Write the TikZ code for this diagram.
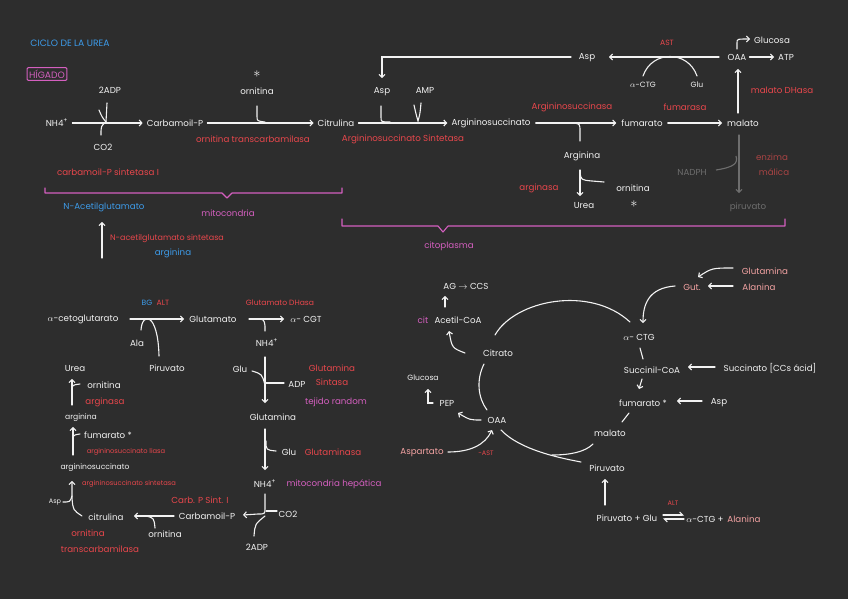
\documentclass[tikz,border=0pt]{standalone}
\usepackage{fontspec}
\setmainfont{Poppins}
\usetikzlibrary{arrows.meta,calc}
\definecolor{bg}{HTML}{2D2D2D}
\definecolor{cred}{HTML}{E8474C}
\definecolor{cblue}{HTML}{3D9BE9}
\definecolor{cpink}{HTML}{D45FBF}
\definecolor{csal}{HTML}{F4A3A3}
\definecolor{cgray}{HTML}{6E6E6E}
\definecolor{cdred}{HTML}{A84444}
\definecolor{cwh}{HTML}{F2F2F2}
\begin{document}
\begin{tikzpicture}[x=1pt,y=-1pt,
  every node/.style={inner sep=1pt, font=\fontsize{8.7}{10}\selectfont, text=cwh},
  rd/.style={text=cred}, bl/.style={text=cblue}, pk/.style={text=cpink},
  sa/.style={text=csal}, gy/.style={text=cgray}, dr/.style={text=cdred},
  small/.style={font=\fontsize{6.5}{7}\selectfont},
  tiny/.style={font=\fontsize{6.7}{8}\selectfont},
  mid/.style={font=\fontsize{7.6}{9}\selectfont},
  hdr/.style={font=\fontsize{9.2}{10}\selectfont},
  starn/.style={inner sep=0pt, font=\fontsize{15}{15}\selectfont},
  ln/.style={draw=cwh, line width=1.1pt, line cap=round},
  arr/.style={ln, -{Straight Barb[length=2.8pt,width=6pt]}},
  garr/.style={arr, draw=cgray},
  brc/.style={draw=cpink, line width=1.1pt, line cap=round, line join=round}]
\fill[bg] (0,0) rectangle (848,599);

% ================= TOP: urea cycle =================
\node (ciclo) [bl, hdr] at (70,43) {CICLO DE LA UREA};
\node (hig) [pk, hdr, draw=cpink, line width=1pt, rounded corners=1pt, inner sep=2pt] at (47,74) {HÍGADO};
\node (nh4) at (57,123) {NH4\textsuperscript{+}};
\node (adp2) at (110,90) {2ADP};
\node (co2) at (103,147) {CO2};
\node (carbP) at (175,123) {Carbamoil-P};
\node (star1) [starn] at (257,74) {$\ast$};
\node (orn1) at (257,91) {ornitina};
\node (otc1) [rd] at (253,139) {ornitina transcarbamilasa};
\node (citr) at (336,123) {Citrulina};
\node (cps1) [rd] at (108,172) {carbamoil-P sintetasa I};

\draw[arr, shorten <=3pt, shorten >=3pt] (nh4) -- (carbP);
\coordinate (j1) at (106,122);
\draw[ln] (107,103) -- (j1);
\draw[ln] (99,110) .. controls (102,117) .. (j1);
\draw[ln] (j1) .. controls (101,126) .. (101,135);
\draw[arr, shorten <=3pt, shorten >=3pt] (carbP) -- (citr);
\draw[ln] (257,106) -- (257,116) .. controls (257,121) .. (265,122);

% brace mitocondria
\draw[brc] (45,188) -- (45,193) -- (222,193) -- (227,198) -- (232,193) -- (342,193) -- (342,188);
\node (nacg) [bl] at (104,207) {N-Acetilglutamato};
\node (mito) [pk] at (228,213) {mitocondria};
\coordinate (nacgIn) at (102,258);
\draw[arr] (nacgIn) -- (102,222);
\node (nags) [rd, font=\fontsize{8}{9}\selectfont] at (167,239) {N-acetilglutamato sintetasa};
\node (argb) [bl] at (173,253) {arginina};

% Argininosuccinato sintetasa
\node (aspA) at (382,92) {Asp};
\node (amp) at (425,90) {AMP};
\node (ass) [rd] at (403,139) {Argininosuccinato Sintetasa};
\node (argsuc) at (491,123) {Argininosuccinato};
\draw[arr, shorten <=3pt, shorten >=3pt] (citr) -- (argsuc);
\draw[ln] (381,106) -- (381,117) .. controls (381,122) .. (390,122);
\draw[ln] (414,105) .. controls (416,114) .. (418,121) .. controls (420,114) .. (421,103);

% Argininosuccinasa
\node (asl) [rd] at (572,107) {Argininosuccinasa};
\node (fum) at (642,123) {fumarato};
\draw[arr, shorten <=4pt, shorten >=4pt] (argsuc) -- (fum);
\node (arg) at (582,156) {Arginina};
\draw[ln] (574,123) .. controls (580,124) .. (580,132) -- (580,141);
\node (urea1) at (584,206) {Urea};
\node (orn2) at (633,188) {ornitina};
\node (star2) [starn] at (634,204) {$\ast$};
\node (argasa) [rd] at (539,188) {arginasa};
\coordinate (argOut) at (580,170);
\draw[arr] (argOut) -- (580,196);
\draw[ln] (580,172) .. controls (581,180) .. (592,181) -- (604,182);

% fumarasa, malato, OAA
\node (fumasa) [rd] at (685,107) {fumarasa};
\node (mal) at (743,123) {malato};
\draw[arr, shorten <=4pt, shorten >=4pt] (fum) -- (mal);
\node (oaa) at (737,57) {OAA};
\node (mdh) [rd] at (782,90) {malato DHasa};
\draw[arr] (738,113) -- (738,69);
\node (atp) at (786,57) {ATP};
\draw[arr, shorten <=2pt, shorten >=3pt] (oaa) -- (atp);
\node (gluc1) at (772,40) {Glucosa};
\draw[arr] (737,49) -- (737,43) .. controls (737,39) .. (750,39);

% AST transamination
\node (astT) [rd, mid] at (667,43) {AST};
\node (aspT) at (587,58) {Asp};
\draw[arr] (719,57) -- (609,57);
\node (actg1) [mid] at (643,85) {$\alpha$-CTG};
\node (glu1) [mid] at (697,85) {Glu};
\draw[ln] (643,76) .. controls (652,50) and (688,50) .. (697,76);
\draw[arr] (571,57) -- (382,57) -- (382,78);

% enzima malica (gray)
\node (nadph) [gy] at (692,172) {NADPH};
\node (em1) [dr] at (772,157) {enzima};
\node (em2) [dr] at (774,172) {málica};
\node (pir1) [gy] at (748,207) {piruvato};
\draw[garr] (739,135) -- (739,193);
\draw[draw=cgray, line width=1.1pt] (716,170) .. controls (735,167) and (738,163) .. (736,156);

% brace citoplasma
\draw[brc] (342,219) -- (342,226) -- (438,226) -- (443,232) -- (448,226) -- (785,226) -- (785,219);
\node (cito) [pk] at (449,246) {citoplasma};

% ================= BOTTOM LEFT =================
\node (akg) at (83,319) {$\alpha$-cetoglutarato};
\node (bg) [bl, mid] at (147,303) {BG};
\node (alt1) [rd, mid] at (163,303) {ALT};
\node (glut) at (213,319) {Glutamato};
\draw[arr] (130,319) -- (184,319);
\node (ala) at (137,343) {Ala};
\node (pir2) at (167,368) {Piruvato};
\draw[ln] (141,330) .. controls (142,312) and (158,312) .. (159,356);
\node (gdh) [rd, mid] at (280,303) {Glutamato DHasa};
\node (acgt) at (306,319) {$\alpha$- CGT};
\draw[arr] (249,319) -- (284,319);
\draw[ln] (255,319) .. controls (264,319) .. (265,326) -- (265,331);
\node (nh4b) at (267,343) {NH4\textsuperscript{+}};
\draw[arr] (265,357) -- (265,403);
\node (glu2) at (240,369) {Glu};
\draw[ln] (252,371) .. controls (262,374) .. (265,385);
\node (adp1) at (297,384) {ADP};
\draw[ln] (265,383) -- (284,383);
\node (gs1) [rd] at (332,368) {Glutamina};
\node (gs2) [rd] at (332,382) {Sintasa};
\node (tej) [pk] at (336,402) {tejido random};
\node (glm) at (273,417) {Glutamina};
\draw[arr] (265,429) -- (265,470);
\draw[ln] (266,441) .. controls (266,450) .. (276,451);
\node (glu3) at (289,452) {Glu};
\node (glsa) [rd] at (333,452) {Glutaminasa};
\node (nh4c) at (265,484) {NH4\textsuperscript{+}};
\node (mh) [pk] at (334,484) {mitocondria hepática};
\draw[arr] (265,494) -- (265,508) .. controls (265,514) .. (258,514) -- (243,515);
\draw[ln] (277,511) -- (266,511);
\node (co2b) at (288,514) {CO2};
\draw[ln] (254,536) .. controls (255,524) .. (265,516);
\node (adp2b) at (257,547) {2ADP};
\node (cpsb) [rd] at (200,500) {Carb. P Sint. I};
\node (carbPb) at (207,516) {Carbamoil-P};
\node (citb) at (106,517) {citrulina};
\draw[arr] (174,516) -- (134,516);
\draw[ln] (155,528) .. controls (154,518) .. (146,516);
\node (ornb) at (165,534) {ornitina};
\node (otcb1) [rd] at (88,533) {ornitina};
\node (otcb2) [rd] at (100,549) {transcarbamilasa};
\draw[arr] (82,516) .. controls (73,510) .. (72,498) -- (72,481);
\node (aspb) [small] at (55,502) {Asp};
\draw[ln] (63,502) .. controls (70,502) .. (72,496);
\node (assb) [rd, tiny] at (129,484) {argininosuccinato sintetasa};
\node (argsb) [mid] at (95,468) {argininosuccinato};
\draw[arr] (73,455) -- (73,427);
\draw[ln] (73,441) .. controls (73,435) .. (80,434);
\node (fumb) at (108,435) {fumarato *};
\node (aslb) [rd, tiny] at (126,452) {argininosuccinato liasa};
\node (argb2) [mid] at (81,418) {arginina};
\draw[arr] (72,405) -- (72,379);
\draw[ln] (72,391) .. controls (72,385) .. (80,384);
\node (ornc) at (104,385) {ornitina};
\node (argasab) [rd] at (105,402) {arginasa};
\node (ureab) at (75,369) {Urea};

% ================= BOTTOM RIGHT: TCA =================
\node (agccs) at (466,286) {AG $\rightarrow$ CCS};
\draw[arr] (445,307) -- (445,296);
\node (cit) [pk] at (423,320) {cit};
\node (acoa) at (458,320) {Acetil-CoA};
\node (citr2) at (498,353) {Citrato};
\draw[arr] (465,353) .. controls (452,348) .. (449,331);
\draw[ln] (495,335) .. controls (515,300) and (590,285) .. (630,322);
\node (actg2) at (639,337) {$\alpha$- CTG};
\node (gut) [sa] at (692,287) {Gut.};
\node (glm2) [sa] at (765,271) {Glutamina};
\node (ala2) [sa] at (759,287) {Alanina};
\draw[arr] (733,268) .. controls (712,268) .. (698,277);
\draw[arr] (733,286) -- (708,286);
\draw[arr] (675,286) .. controls (648,288) and (643,305) .. (643,323);
\draw[ln] (640,348) -- (643,359);
\node (succoa) at (652,370) {Succinil-CoA};
\node (succ) at (770,368) {Succinato [CCs ácid]};
\draw[arr] (715,367) -- (688,367);
\draw[arr] (642,379) -- (639,389);
\node (fum2) at (643,403) {fumarato *};
\node (asp2) at (719,403) {Asp};
\draw[arr] (702,401) -- (677,401);
\draw[ln] (629,413) -- (622,422);
\node (mal2) at (610,433) {malato};
\node (pir3) at (607,468) {Piruvato};
\node (oaa2) at (497,420) {OAA};
\draw[ln] (484,364) .. controls (476,380) and (478,398) .. (487,410);
\node (pep) at (447,403) {PEP};
\node (gluc2) [mid] at (423,378) {Glucosa};
\draw[arr] (433,403) -- (428,403) -- (428,389);
\draw[arr] (481,420) .. controls (470,420) .. (458,413);
\node (aspart) [sa] at (422,453) {Aspartato};
\node (ast2) [rd, small] at (486,453) {-AST};
\draw[arr] (448,452) .. controls (470,452) and (485,445) .. (492,430);
\draw[ln] (501,430) .. controls (520,450) and (560,458) .. (581,462);
\draw[ln] (593,444) .. controls (585,452) and (570,455) .. (552,455);
\draw[arr] (605,505) -- (605,479);
\node (pirglu) at (627,518) {Piruvato + Glu};
\node (alt2) [rd, small] at (673,503) {ALT};
\draw[ln, -{Straight Barb[harpoon,length=3pt,width=6pt]}] (663,515) -- (684,515);
\draw[ln, -{Straight Barb[harpoon,length=3pt,width=6pt]}] (684,519) -- (663,519);
\node (actg3) at (705,519) {$\alpha$-CTG +};
\node (ala3) [sa] at (744,519) {Alanina};
\end{tikzpicture}
\end{document}
